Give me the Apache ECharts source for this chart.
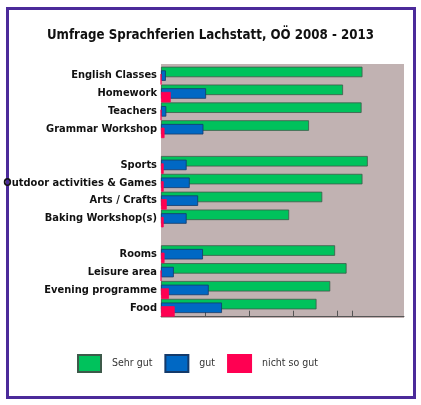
<!DOCTYPE html>
<html>
<head>
<meta charset="utf-8">
<script src="https://cdn.jsdelivr.net/npm/echarts@6/dist/echarts.min.js"></script>
<style>
  html, body { margin: 0; padding: 0; background: #fff; }
  #main { width: 421px; height: 405px; }
</style>
</head>
<body>
<div id="main"></div>
<script>
// categories, blank entries are the gaps between the groups
const categories = [
  'English Classes', 'Homework', 'Teachers', 'Grammar Workshop', ' ',
  'Sports', 'Outdoor activities & Games', 'Arts / Crafts', 'Baking Workshop(s)', '  ',
  'Rooms', 'Leisure area', 'Evening programme', 'Food'
];
const sehrGut = [45.6, 41.2, 45.4, 33.5, '-', 46.8, 45.6, 36.5, 29.0, '-', 39.4, 42.0, 38.3, 35.2];
const gut = [1.1, 10.2, 1.2, 9.6, '-', 5.8, 6.5, 8.4, 5.8, '-', 9.5, 2.9, 10.8, 13.8];
const nichtSoGut = [0, 2.2, 0, 0.8, '-', 0.6, 0.6, 1.3, 0.6, '-', 0.8, 0, 1.8, 3.1];
// tick marks as drawn on the original (no labels)
const tickValues = [10, 20, 30, 40, 43.2];

const labelFont = '"DejaVu Sans Condensed"';

const chart = echarts.init(document.getElementById('main'));

function barSeries(name, data, color, border) {
  return {
    name: name,
    type: 'bar',
    data: data,
    barWidth: 10.5,
    barGap: '-65%',
    itemStyle: { color: color, borderColor: border, borderWidth: 0.8 },
    silent: true
  };
}

chart.setOption({
  animation: false,
  title: {
    text: 'Umfrage Sprachferien Lachstatt, OÖ 2008 - 2013',
    left: 'center',
    top: 24,
    textStyle: { fontFamily: labelFont, fontWeight: 'bold', fontSize: 13.2, color: '#111' }
  },
  graphic: [
    {
      // plot background, a little taller than the bar area
      type: 'rect',
      z: -1,
      shape: { x: 161, y: 64, width: 243, height: 254 },
      style: { fill: '#c1b2b2' }
    },
    {
      type: 'rect',
      shape: { x: 7.5, y: 8.5, width: 407, height: 389 },
      style: { fill: 'none', stroke: '#4b2a9a', lineWidth: 3 }
    }
  ],
  legend: {
    left: 77,
    top: 354,
    padding: 0,
    itemWidth: 23,
    itemHeight: 17,
    itemGap: 12,
    icon: 'rect',
    selectedMode: false,
    textStyle: { fontFamily: labelFont, fontSize: 10.5, color: '#333', padding: [0, 0, 0, 6] },
    data: ['Sehr gut', 'gut', 'nicht so gut']
  },
  grid: {
    left: 161, right: 17, top: 66.7, bottom: 88.3,
    outerBoundsMode: 'none',
    containLabel: false,
    show: false
  },
  xAxis: {
    type: 'value',
    min: 0,
    max: 55,
    interval: 10,
    axisLine: { show: true, lineStyle: { color: '#555', width: 1 } },
    axisTick: { show: true, inside: true, length: 6, customValues: tickValues, lineStyle: { color: '#555' } },
    axisLabel: { show: false },
    splitLine: { show: false }
  },
  yAxis: {
    type: 'category',
    inverse: true,
    data: categories,
    axisLine: { show: false },
    axisTick: { show: false },
    axisLabel: {
      margin: 4,
      fontFamily: labelFont,
      fontWeight: 'bold',
      fontSize: 11,
      color: '#111',
      interval: 0
    }
  },
  series: [
    barSeries('Sehr gut', sehrGut, '#00c25c', '#3d5a4a'),
    barSeries('gut', gut, '#0068c4', '#143a6a'),
    barSeries('nicht so gut', nichtSoGut, '#ff0052', '#ff0052')
  ]
});
</script>
</body>
</html>
